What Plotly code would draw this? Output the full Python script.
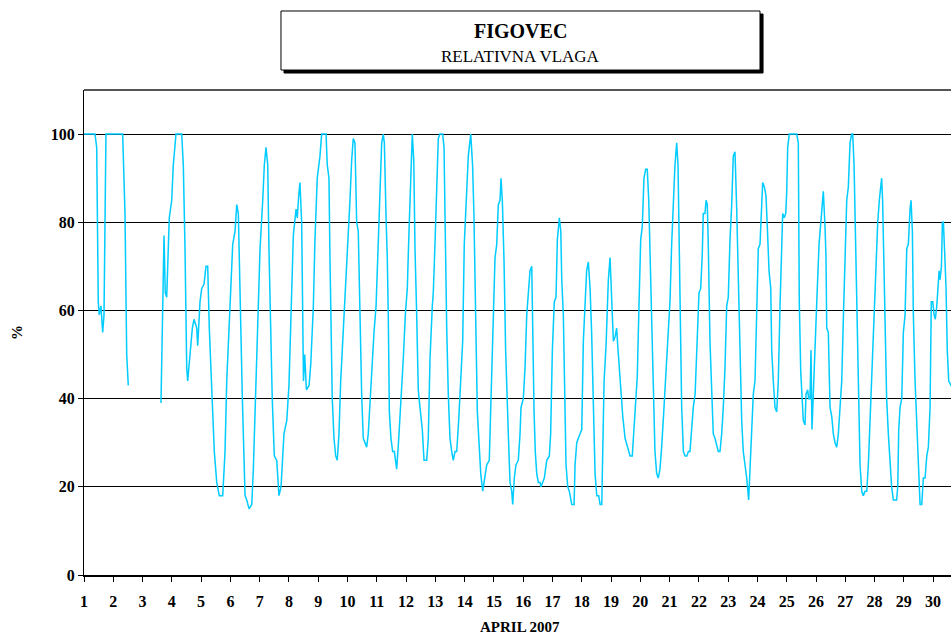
import plotly.graph_objects as go

# Hourly relative humidity, Figovec, April 2007 (hours counted from 1 April 00:00)
hours = [
    0, 9, 10.4, 11.7, 12.5, 13.9, 15.3, 16.4, 18, 31.7, 33.6, 34.4, 35, 36.3,
    50,
    63.1, 65.6, 66.6, 67.8, 69.9, 71.9, 73.2, 75.4, 80.1, 81.4, 82.8, 84.2, 85,
    86.9, 88.8, 90.2, 92.4, 93.2, 95.1, 96.5, 98.4, 100, 101.4, 102.7, 104.7,
    106.8, 108.8, 110.9, 113.7, 115.6, 117, 119.7, 121.9, 123.8, 125.2, 126.5,
    127.9, 129.8, 132, 133.4, 135.3, 137.5, 138.8, 140.7, 142.9, 144.3, 146.5,
    147.8, 149.2, 150.6, 151.6, 153, 154.3, 156, 158, 159.8, 161.5, 163.9,
    166.2, 168, 170.3, 171.6, 173.8, 174.8, 176, 177, 178.4, 179.2, 179.9,
    180.9, 182.3, 184.5, 185.9, 188, 189.3, 191.2, 193.4, 194.8, 198.4, 199.4,
    200.8, 201.6, 202.5, 203.5, 204.9, 206.3, 207.6, 209, 210.4, 211.7, 213.4,
    214.8, 216.7, 218, 219.4, 220.7, 222.1, 223.5, 224.8, 226.2, 227.6, 228.9,
    230.3, 231.7, 233, 235, 236.6, 237.7, 239.4, 241.2, 242.6, 244, 245.3,
    246.2, 247.6, 248.6, 249.4, 250.3, 251.6, 253, 254.4, 256.3, 258, 259.8,
    261.7, 263.4, 265, 266.4, 267.8, 269.1, 270.3, 271.3, 272.7, 274, 275.4,
    277.3, 278.7, 280.9, 282.2, 283.6, 285.5, 286.3, 287.7, 289.1, 290.4,
    291.8, 294, 295.1, 296.2, 297.3, 298.6, 300, 301.4, 302.7, 304.1, 305.5,
    307.1, 308.8, 310.4, 311.7, 313.7, 315, 317, 318.5, 319.6, 321, 322.4,
    323.8, 325.2, 326.8, 328.7, 330.1, 332.2, 334.2, 335.5, 336.9, 338.3,
    339.6, 341, 341.8, 342.9, 344.3, 345.6, 346.5, 347.8, 349.2, 350.6, 351.4,
    352.7, 354.1, 356, 357.4, 358.2, 360.1, 361.5, 362.9, 364.2, 365.6, 367,
    367.7, 368.9, 369.9, 371.1, 372.4, 373.8, 374.6, 376, 377.3, 379.3, 381.4,
    382.5, 383.9, 385.5, 386.9, 388, 389.6, 390.8, 391.6, 392.9, 394.3, 395.1,
    396.5, 397.8, 399.8, 401.7, 402.5, 403.9, 405.2, 406.6, 408, 409.3, 410.6,
    412, 413.4, 414.8, 416.1, 417.5, 418.9, 420.3, 421.9, 423, 424.4, 425.2,
    426.3, 427.9, 429, 429.8, 431.2, 432.6, 433.9, 435.3, 436.6, 437.5, 439.4,
    441.6, 443.5, 445.3, 447.6, 449.4, 450.8, 452.2, 453.5, 454.9, 456.3,
    457.6, 459, 460.4, 461.7, 462.9, 463.9, 465.3, 466.6, 468, 469.4, 470.7,
    472.1, 473.5, 475.4, 477, 478.9, 480.3, 481.7, 483, 484.4, 485.8, 486.9,
    488, 489.1, 489.9, 491.3, 492.7, 494.1, 495.4, 496.7, 498.1, 499.4, 500.9,
    502.8, 504.1, 505.5, 506.8, 507.6, 509, 509.9, 510.9, 511.7, 513.1, 514.5,
    515.8, 517.2, 518.6, 519.9, 521.3, 522.7, 524, 525.4, 526.8, 528.1, 529.5,
    530.9, 532.2, 533.6, 535, 536.3, 537.7, 539.1, 540.4, 541.8, 543.2, 544.8,
    545.9, 547.3, 548.6, 550, 551.4, 552.7, 554.1, 555.5, 556.3, 557.7, 559,
    560.1, 561.5, 562.9, 563.7, 565, 566.4, 567.8, 569.1, 570.5, 571.9, 572.7,
    574, 575.2, 576, 576.8, 578.1, 584.2, 585.5, 586.3, 587.5, 588.5, 589.6,
    591, 591.8, 593.2, 594, 595.1, 595.9, 596.7, 597.8, 599.2, 600.5, 602.5,
    603.8, 605.2, 606, 607.4, 608.2, 608.8, 610.1, 611.5, 612.9, 614.2, 615.6,
    617, 618.3, 619.7, 621.1, 622.4, 623.8, 625.2, 626.5, 627.9, 629.3, 630.1,
    631.2, 632.6, 633.9, 635, 636.1, 637.5, 638.8, 640.2, 641.6, 642.9, 644.3,
    645.9, 647.6, 649.2, 650.6, 651.9, 653, 653.8, 654.6, 655.7, 656.8, 657.9,
    659.3, 660.7, 662, 663.4, 664.8, 666.1, 667, 667.8, 668.9, 670.3, 671.6,
    673, 674.4, 675.7, 677.1, 677.9, 679, 679.8, 681.2, 682.6, 683.9, 685.3,
    686.7, 688, 689.4, 690.8, 692.1, 693.5, 694.5, 695.7, 696.8, 697.8, 699,
    700, 700.9, 701.7, 702.8, 703.6, 704.4, 705.5, 706.6, 707.6, 708.8, 710.7,
    713,
]

rh = [
    100, 100, 97, 62, 59, 61, 55, 59, 100, 100, 82, 68, 50, 43,
    None,
    39, 77, 64, 63, 81, 85, 93, 100, 100, 93, 74, 47, 44,
    50, 56, 58, 56, 52, 62, 65, 66, 70, 70, 56, 44,
    28, 21, 18, 18, 28, 44, 61, 75, 78, 84, 82,
    61, 40, 18, 17, 15, 16, 24, 43, 60, 74, 85,
    93, 97, 93, 74, 55, 40, 27, 26, 18, 20, 32,
    35, 43, 62, 77, 83, 81, 86, 89, 80, 55, 44,
    50, 42, 43, 48, 61, 76, 90, 95, 100, 100, 93,
    90, 72, 51, 40, 31, 27, 26, 32, 44, 51, 61,
    69, 76, 85, 94, 99, 98, 80, 78, 55, 41, 31,
    30, 29, 32, 42, 52, 55, 61, 76, 89, 98, 100,
    98, 81, 72, 59, 37, 31, 28, 28, 24, 31, 39,
    49, 59, 65, 78, 90, 100, 94, 74, 59, 42, 38,
    33, 26, 26, 31, 49, 61, 64, 75, 87, 99,
    100, 100, 97, 75, 56, 41, 31, 28, 26, 28, 28,
    35, 44, 53, 75, 87, 95, 100, 93, 82, 62, 37,
    30, 23, 19, 22, 25, 26, 46, 59, 72, 75,
    84, 85, 90, 85, 71, 51, 41, 32, 21, 19, 16,
    22, 25, 26, 32, 38, 40, 47, 59, 64, 69, 70,
    56, 37, 28, 23, 21, 21, 20, 21, 22, 26, 27,
    32, 51, 62, 63, 76, 81, 78, 67, 59, 40, 25,
    20, 19, 16, 16, 25, 30, 31, 32, 33, 53, 61,
    69, 71, 65, 55, 41, 23, 18, 18, 16, 16, 28,
    44, 52, 62, 67, 72, 62, 53, 54, 56, 52, 44,
    36, 31, 29, 27, 27, 33, 40, 45, 61, 76,
    79, 90, 92, 92, 85, 74, 56, 40, 28, 23, 22,
    24, 29, 38, 46, 53, 62, 75, 85, 93, 98, 93,
    73, 55, 38, 28, 27, 27, 28, 28, 33, 38, 41,
    55, 64, 65, 73, 82, 82, 85, 84, 75, 53, 42,
    32, 31, 29, 28, 28, 32, 38, 47, 61, 63, 76,
    84, 95, 96, 83, 66, 47, 35, 28, 25, 22, 17,
    24, 30, 41, 44, 61, 74, 75, 85, 89, 88, 86,
    79, 69, 65, 51, 44, 38, 37, 44, 61, 76, 82,
    81, 82, 87, 97, 100, 100, 98, 62, 46, 40, 35,
    34, 41, 42, 40, 40, 51, 33, 42, 52, 61, 75,
    79, 85, 87, 79, 72, 56, 55, 38, 36, 32, 30,
    29, 32, 38, 44, 58, 75, 85, 88, 98, 100, 100,
    93, 74, 51, 35, 25, 19, 18, 19, 19, 25, 35,
    46, 59, 67, 80, 85, 89, 90, 85, 72, 55, 40,
    32, 26, 20, 17, 17, 17, 20, 33, 38, 40, 55,
    59, 74, 75, 83, 85, 78, 59, 44, 33, 25, 16,
    16, 22, 22, 27, 29, 38, 62, 62, 59, 58, 61,
    65, 69, 67, 70, 80, 80, 73, 65, 51, 44, 43,
    42,
]

day_ticks = list(range(1, 31))
y_ticks = [0, 20, 40, 60, 80, 100]

x_days = [1 + h / 24 for h in hours]

serif = "Liberation Serif, Times New Roman, serif"
x_range = [1, 1 + 867 / 29.28]

fig = go.Figure()
fig.add_trace(go.Scatter(
    x=x_days,
    y=rh,
    mode="lines",
    line=dict(color="#00CCFF", width=1.5),
    connectgaps=False,
    showlegend=False,
))

fig.update_layout(
    width=951,
    height=635,
    margin=dict(l=84, r=0, t=90, b=60, autoexpand=False),
    paper_bgcolor="white",
    plot_bgcolor="white",
    font=dict(family=serif, color="black"),
    xaxis=dict(
        range=x_range,
        tickvals=day_ticks,
        ticktext=[str(d) for d in day_ticks],
        ticks="outside",
        ticklen=5,
        tickcolor="black",
        ticklabelstandoff=6,
        tickfont=dict(family=serif, size=16, color="black", weight="bold"),
        showgrid=False,
        showline=True,
        linecolor="black",
        linewidth=1.5,
        zeroline=False,
    ),
    # second x axis only to draw the upper half of the crossing tick marks
    xaxis2=dict(
        overlaying="x",
        anchor="y",
        range=x_range,
        tickvals=day_ticks,
        ticks="inside",
        ticklen=5,
        tickcolor="black",
        showticklabels=False,
        showgrid=False,
        zeroline=False,
    ),
    yaxis=dict(
        range=[0, 110],
        tickvals=y_ticks,
        ticks="outside",
        ticklen=5,
        tickcolor="black",
        tickfont=dict(family=serif, size=16, color="black", weight="bold"),
        showgrid=True,
        gridcolor="black",
        gridwidth=1,
        showline=True,
        linecolor="black",
        linewidth=1,
        zeroline=False,
    ),
    shapes=[
        # top border of the plot area
        dict(type="line", xref="paper", yref="paper", x0=0, x1=1, y0=1, y1=1,
             line=dict(color="#555555", width=2)),
        # title box shadow and box
        dict(type="rect", xref="paper", yref="paper",
             x0=0.2272 + 0.0035, x1=0.7797 + 0.0035,
             y0=1.0412 - 0.0062, y1=1.1629 - 0.0062,
             fillcolor="black", line=dict(color="black", width=1)),
        dict(type="rect", xref="paper", yref="paper",
             x0=0.2272, x1=0.7797, y0=1.0412, y1=1.1629,
             fillcolor="white", line=dict(color="black", width=1)),
    ],
    annotations=[
        dict(text="<b>FIGOVEC</b>", xref="paper", yref="paper", x=0.5035, y=1.1216,
             xanchor="center", yanchor="middle", showarrow=False,
             font=dict(family=serif, size=20, color="black")),
        dict(text="RELATIVNA VLAGA", xref="paper", yref="paper", x=0.5035, y=1.0701,
             xanchor="center", yanchor="middle", showarrow=False,
             font=dict(family=serif, size=17, color="black")),
        dict(text="<b>%</b>", xref="paper", yref="paper", x=-0.0773, y=0.501,
             xanchor="center", yanchor="middle", showarrow=False, textangle=-90,
             font=dict(family=serif, size=15, color="black")),
        dict(text="<b>APRIL 2007</b>", xref="paper", yref="paper", x=0.503, y=-0.107,
             xanchor="center", yanchor="middle", showarrow=False,
             font=dict(family=serif, size=15, color="black")),
    ],
)

# drop the browser's default page margin so the figure fills the window
fig.write_html(
    "out.html",
    config={"displayModeBar": False},
    post_script="document.body.style.margin = '0';",
)
